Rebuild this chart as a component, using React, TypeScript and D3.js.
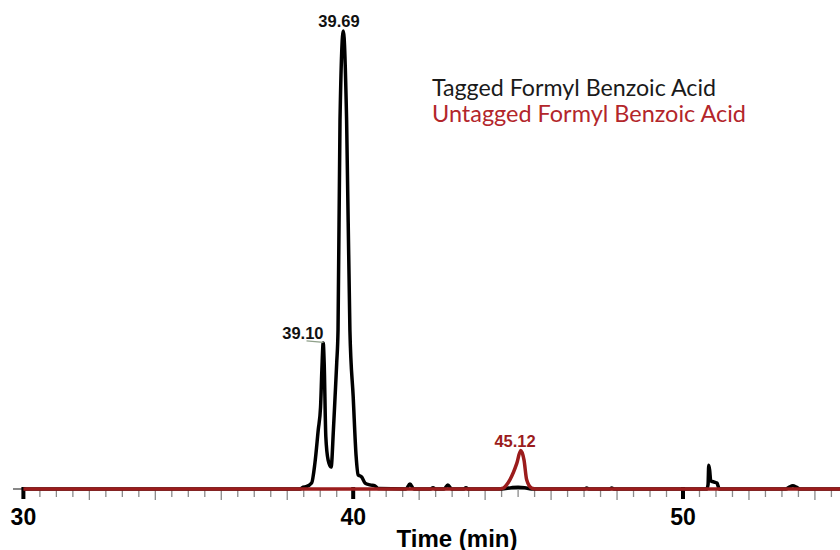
import React, { useRef, useEffect } from 'react';
import * as d3 from 'd3';

// Tagged formyl benzoic acid trace (time in min, relative intensity %)
const taggedTime = [
  30, 38.4, 38.48, 38.57, 38.74, 38.84, 38.94, 39.01, 39.05, 39.09, 39.12, 39.17, 39.24, 39.33,
  39.4, 39.45, 39.5, 39.54, 39.6, 39.7, 39.8, 39.9, 40.0, 40.09, 40.15, 40.26, 40.36, 40.51,
  40.66, 40.75, 41.6, 41.72, 41.84, 42.34, 42.42, 42.5, 42.76, 42.87, 42.98, 43.36, 43.42, 43.48,
  44.5, 44.8, 45.0, 45.2, 45.4, 47.02, 47.08, 47.14, 47.78, 47.84, 47.9, 50.72, 50.76, 50.78,
  50.81, 50.84, 50.95, 51.03, 51.1, 53.12, 53.22, 53.33, 53.44, 53.54, 54.8,
];
const taggedIntensity = [
  0, 0, 0.4, 0.5, 1.3, 5.7, 12.9, 17.9, 26, 31.9, 27.5, 11.4, 6.3, 4.8,
  12.9, 20.1, 27.5, 34.7, 80.6, 100, 80.6, 34.7, 20.1, 7, 3.1, 2.6, 1.3, 0.9,
  0.7, 0.1, 0, 1.1, 0, 0, 0.3, 0, 0, 0.9, 0, 0, 0.3, 0,
  0, 0.3, 0.4, 0.3, 0, 0, 0.2, 0, 0, 0.2, 0, 0, 1, 5.2,
  4, 1.8, 1.5, 1.3, 0, 0, 0.4, 0.7, 0.4, 0, 0,
];

// Untagged formyl benzoic acid trace
const untaggedTime = [30, 44.4, 44.55, 44.65, 44.75, 44.96, 45.08, 45.18, 45.26, 45.41, 45.55, 54.8];
const untaggedIntensity = [0, 0, 0.2, 0.9, 2, 5.6, 8.4, 6.3, 2, 0.2, 0, 0];

const xTicks = d3.range(30, 55, 0.5);
const majorLabels = [30, 40, 50];

const peakLabels = [
  { time: 39.69, intensity: 100, text: '39.69', color: '#111', anchor: 'middle', dx: -4, dy: -4 },
  { time: 39.1, intensity: 31.9, text: '39.10', color: '#111', anchor: 'end', dx: 0, dy: -3.6 },
  { time: 45.12, intensity: 8.4, text: '45.12', color: '#9b1c1c', anchor: 'middle', dx: -7, dy: -4 },
];

const legendItems = [
  { text: 'Tagged Formyl Benzoic Acid', color: '#1a1a1a', length: 284 },
  { text: 'Untagged Formyl Benzoic Acid', color: '#b3262b', length: 314 },
];

const Chromatogram = () => {
  const svgRef = useRef();

  useEffect(() => {
    const width = 840;
    const height = 550;
    const baseY = 489;

    const x = d3.scaleLinear().domain([30, 40]).range([23.4, 353.2]);
    const y = d3.scaleLinear().domain([0, 100]).range([baseY, 31]);

    const svg = d3.select(svgRef.current);
    svg.selectAll('*').remove();
    svg.attr('width', width).attr('height', height).attr('viewBox', [0, 0, width, height]);

    svg.append('rect').attr('width', width).attr('height', height).attr('fill', 'white');

    // axis line
    svg.append('line')
      .attr('x1', 13).attr('x2', width)
      .attr('y1', baseY).attr('y2', baseY)
      .attr('stroke', '#888').attr('stroke-width', 2);

    // ticks: minor every 0.5, medium every 2, major every 10
    svg.append('g')
      .selectAll('line')
      .data(xTicks)
      .join('line')
      .attr('x1', d => x(d)).attr('x2', d => x(d))
      .attr('y1', d => d % 10 === 0 ? baseY - 2 : baseY)
      .attr('y2', d => d % 10 === 0 ? baseY + 10 : d % 2 === 0 ? baseY + 11 : baseY + 8)
      .attr('stroke', d => d % 10 === 0 ? '#000' : '#8a8a8a')
      .attr('stroke-width', d => d % 10 === 0 ? 4 : 1.3);

    svg.append('g')
      .selectAll('text')
      .data(majorLabels)
      .join('text')
      .attr('x', d => x(d)).attr('y', 525)
      .attr('text-anchor', 'middle')
      .attr('font-family', '"Liberation Sans", Arial, sans-serif')
      .attr('font-weight', 'bold')
      .attr('font-size', 23)
      .attr('fill', '#000')
      .text(d => d);

    svg.append('text')
      .attr('x', 457).attr('y', 546.5)
      .attr('text-anchor', 'middle')
      .attr('font-family', '"Liberation Sans", Arial, sans-serif')
      .attr('font-weight', 'bold')
      .attr('font-size', 24)
      .attr('fill', '#000')
      .text('Time (min)');

    const line = d3.line()
      .x(d => x(d[0]))
      .y(d => y(d[1]))
      .curve(d3.curveMonotoneX);

    const tagged = taggedTime.map((t, i) => [t, taggedIntensity[i]]);
    const untagged = untaggedTime.map((t, i) => [t, untaggedIntensity[i]]);

    svg.append('path')
      .datum(tagged)
      .attr('fill', 'none')
      .attr('stroke', '#000')
      .attr('stroke-width', 3.5)
      .attr('stroke-linejoin', 'round')
      .attr('d', line);

    svg.append('path')
      .datum(untagged)
      .attr('fill', 'none')
      .attr('stroke', '#9b1c1c')
      .attr('stroke-width', 3.5)
      .attr('stroke-linejoin', 'round')
      .attr('d', line);

    // leader line for the 39.10 shoulder label
    svg.append('line')
      .attr('x1', x(39.1) - 17).attr('y1', y(31.9) - 2)
      .attr('x2', x(39.1)).attr('y2', y(31.9) - 0.5)
      .attr('stroke', '#8fa08a').attr('stroke-width', 1.2);

    svg.append('g')
      .selectAll('text')
      .data(peakLabels)
      .join('text')
      .attr('x', d => x(d.time) + d.dx)
      .attr('y', d => y(d.intensity) + d.dy)
      .attr('text-anchor', d => d.anchor)
      .attr('font-family', '"Liberation Sans", Arial, sans-serif')
      .attr('font-weight', 'bold')
      .attr('font-size', 16.5)
      .attr('fill', d => d.color)
      .text(d => d.text);

    svg.append('g')
      .selectAll('text')
      .data(legendItems)
      .join('text')
      .attr('x', 432)
      .attr('y', (d, i) => 96 + i * 26)
      .attr('font-family', 'Lato, "Open Sans", sans-serif')
      .attr('font-size', 23)
      .attr('fill', d => d.color)
      .attr('textLength', d => d.length)
      .attr('lengthAdjust', 'spacingAndGlyphs')
      .text(d => d.text);
  }, []);

  return <svg ref={svgRef} style={{ position: 'absolute', left: 0, top: 0 }}></svg>;
};

export default function App() {
  return <Chromatogram />;
}
